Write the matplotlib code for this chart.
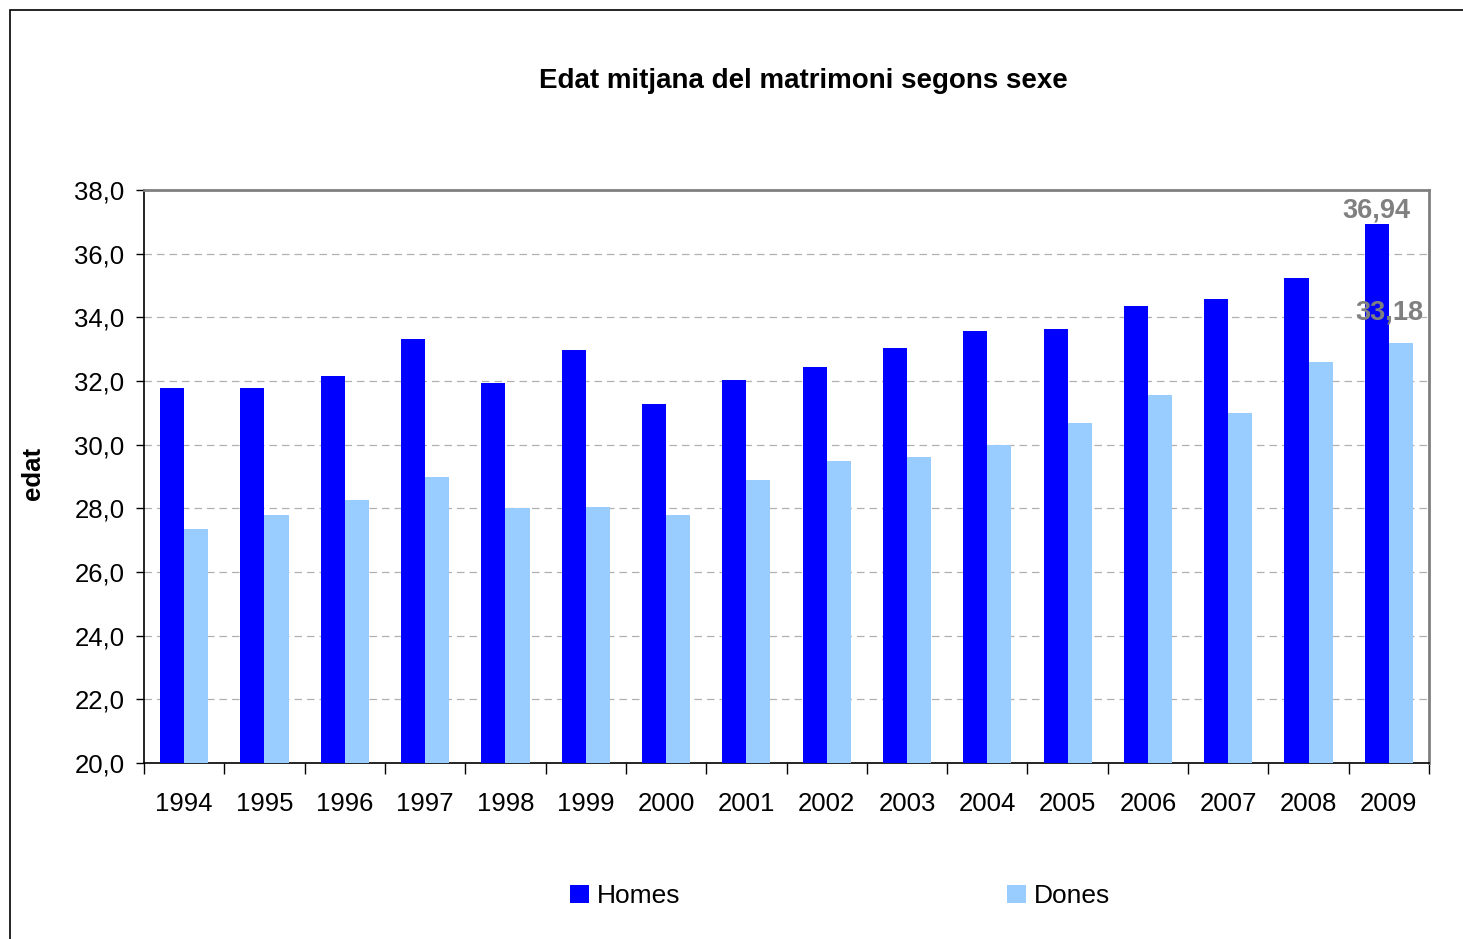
import numpy as np
import matplotlib.pyplot as plt
from matplotlib.patches import Rectangle
from matplotlib.ticker import FuncFormatter, MultipleLocator

plt.rcParams['font.family'] = ['Liberation Sans', 'DejaVu Sans']

# Data
years = ['1994', '1995', '1996', '1997', '1998', '1999', '2000', '2001',
         '2002', '2003', '2004', '2005', '2006', '2007', '2008', '2009']
homes = [31.78, 31.78, 32.16, 33.32, 31.94, 32.97, 31.28, 32.03,
         32.44, 33.04, 33.57, 33.63, 34.36, 34.58, 35.24, 36.94]
dones = [27.35, 27.79, 28.26, 28.98, 28.01, 28.04, 27.79, 28.89,
         29.49, 29.61, 29.99, 30.68, 31.56, 30.99, 32.60, 33.18]

W, H = 1463, 939
fig = plt.figure(figsize=(W / 100, H / 100), dpi=100)
ax = fig.add_axes([144 / W, 1 - 763 / H, (1429 - 144) / W, (763 - 190) / H])

# Outer chart border
fig.patches.append(Rectangle((10 / W, -0.1), 1.2, 1 - 10 / H + 0.1,
                             transform=fig.transFigure, fill=False,
                             edgecolor='black', linewidth=1.2))

x = np.arange(len(years))
bw = 0.3
ax.bar(x - 0.15, homes, bw, color='#0000FF', label='Homes', zorder=3)
ax.bar(x + 0.15, dones, bw, color='#99CCFF', label='Dones', zorder=3)

ax.set_xlim(-0.5, len(years) - 0.5)
ax.set_ylim(20, 38)
ax.yaxis.set_major_locator(MultipleLocator(2))
ax.yaxis.set_major_formatter(FuncFormatter(lambda v, p: f'{v:.1f}'.replace('.', ',')))
ax.grid(axis='y', color='#b0b0b0', linestyle=(0, (6, 4)), linewidth=0.9, zorder=0)

ax.set_xticks(x)
ax.set_xticklabels(years)
ax.set_xticks(np.arange(-0.5, len(years)), minor=True)
ax.tick_params(axis='x', which='major', length=0, pad=21, labelsize=18.5)
ax.tick_params(axis='x', which='minor', length=8, direction='out', width=1)
ax.tick_params(axis='y', length=6, width=1, pad=8, labelsize=18.5)

for s in ['top', 'right']:
    ax.spines[s].set_color('#808080')
    ax.spines[s].set_linewidth(2)
ax.spines['left'].set_linewidth(1.2)
ax.spines['bottom'].set_linewidth(1.2)

# Data labels for 2009
ax.annotate(f'{homes[-1]:.2f}'.replace('.', ','), (x[-1] - 0.15, homes[-1]),
            xytext=(0, 0), textcoords='offset points', ha='center', va='bottom',
            color='#808080', fontsize=19.5, fontweight='bold')
ax.annotate(f'{dones[-1]:.2f}'.replace('.', ','), (x[-1] + 0.15, dones[-1]),
            xytext=(-8, 13), textcoords='offset points', ha='center', va='bottom',
            color='#808080', fontsize=19.5, fontweight='bold')

fig.text(803 / W, 1 - 81 / H, 'Edat mitjana del matrimoni segons sexe',
         ha='center', va='center', fontsize=20, fontweight='bold')
fig.text(33 / W, 1 - 473 / H, 'edat', rotation=90, ha='center', va='center',
         fontsize=18.5, fontweight='bold')

leg = fig.legend(loc='center', bbox_to_anchor=(840 / W, 1 - 896 / H), ncol=2,
                 frameon=False, fontsize=19, handlelength=0.7, handleheight=0.7,
                 handletextpad=0.3, columnspacing=12.4)

fig.savefig('out.png', dpi=100)
